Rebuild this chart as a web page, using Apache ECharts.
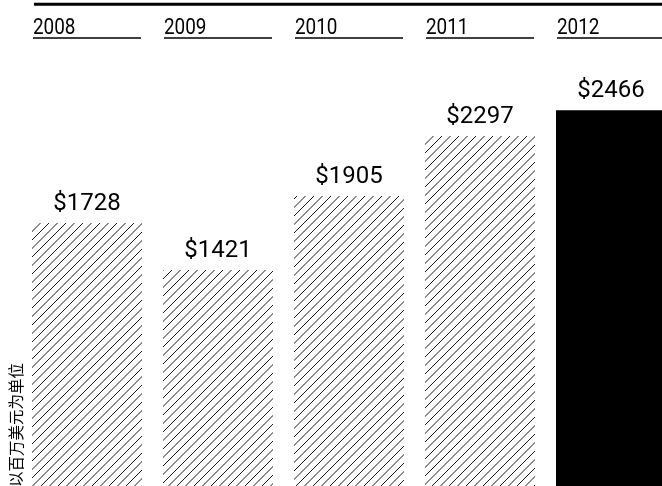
<!DOCTYPE html>
<html>
<head>
<meta charset="utf-8">
<script src="https://cdn.jsdelivr.net/npm/echarts@6/dist/echarts.min.js"></script>
<style>
html,body{margin:0;padding:0;background:#fff;}
#chart{width:662px;height:486px;}
</style>
</head>
<body>
<div id="chart"></div>
<script>
const years = ['2008', '2009', '2010', '2011', '2012'];
const values = [1728, 1421, 1905, 2297, 2466];
const highlightYear = '2012';
const unitLabel = '以百万美元为单位';

function makeHatch() {
  const c = document.createElement('canvas');
  const s = 8.5;
  c.width = 17; c.height = 17;
  const ctx = c.getContext('2d');
  ctx.fillStyle = '#fff';
  ctx.fillRect(0, 0, 17, 17);
  ctx.strokeStyle = '#000';
  ctx.lineWidth = 0.9;
  for (let k = -2; k <= 2; k++) {
    ctx.beginPath();
    ctx.moveTo(k * s, 17);
    ctx.lineTo(k * s + 17, 0);
    ctx.stroke();
  }
  return c;
}
const hatch = { image: makeHatch(), repeat: 'repeat' };

const chart = echarts.init(document.getElementById('chart'), null, { renderer: 'canvas' });
chart.setOption({
  animation: false,
  backgroundColor: '#fff',
  grid: { left: 21.5, width: 655, top: 59, height: 428.6, outerBoundsMode: 'none', containLabel: false },
  xAxis: {
    type: 'category',
    data: years,
    position: 'top',
    axisLine: { show: false },
    axisTick: { show: false },
    axisLabel: { show: false }
  },
  yAxis: {
    type: 'value',
    min: 0,
    max: 2800,
    show: false,
    splitLine: { show: false }
  },
  graphic: [
    { type: 'rect', shape: { x: 34, y: 2.8, width: 640, height: 3 }, style: { fill: '#000' } },
    {
      type: 'text', x: 16, y: 487, rotation: Math.PI / 2,
      style: { text: unitLabel, font: '15.5px "Noto Sans CJK SC"', fill: '#000', textAlign: 'left', textVerticalAlign: 'middle' }
    }
  ],
  series: [
    {
      type: 'bar',
      barWidth: 110,
      data: values.map((v, i) => ({
        value: v,
        itemStyle: { color: years[i] === highlightYear ? '#000' : hatch }
      })),
      label: {
        show: true,
        position: 'top',
        distance: 7,
        formatter: p => '$' + p.value,
        fontSize: 24,
        fontFamily: 'Roboto, sans-serif',
        color: '#000'
      }
    },
    {
      type: 'custom',
      data: years.map((y, i) => [i]),
      clip: false,
      renderItem: function (params, api) {
        const i = api.value(0);
        const x = api.coord([i, 0])[0];
        return {
          type: 'group',
          children: [
            {
              type: 'line',
              shape: { x1: x - 54, y1: 38, x2: x + 54, y2: 38 },
              style: { stroke: '#000', lineWidth: 1.4 }
            },
            {
              type: 'text',
              x: x - 54, y: 28, scaleX: 0.84,
              style: {
                text: years[i],
                font: '22.5px Roboto',
                fill: '#000',
                textAlign: 'left',
                textVerticalAlign: 'middle'
              }
            }
          ]
        };
      }
    }
  ]
});
</script>
</body>
</html>
